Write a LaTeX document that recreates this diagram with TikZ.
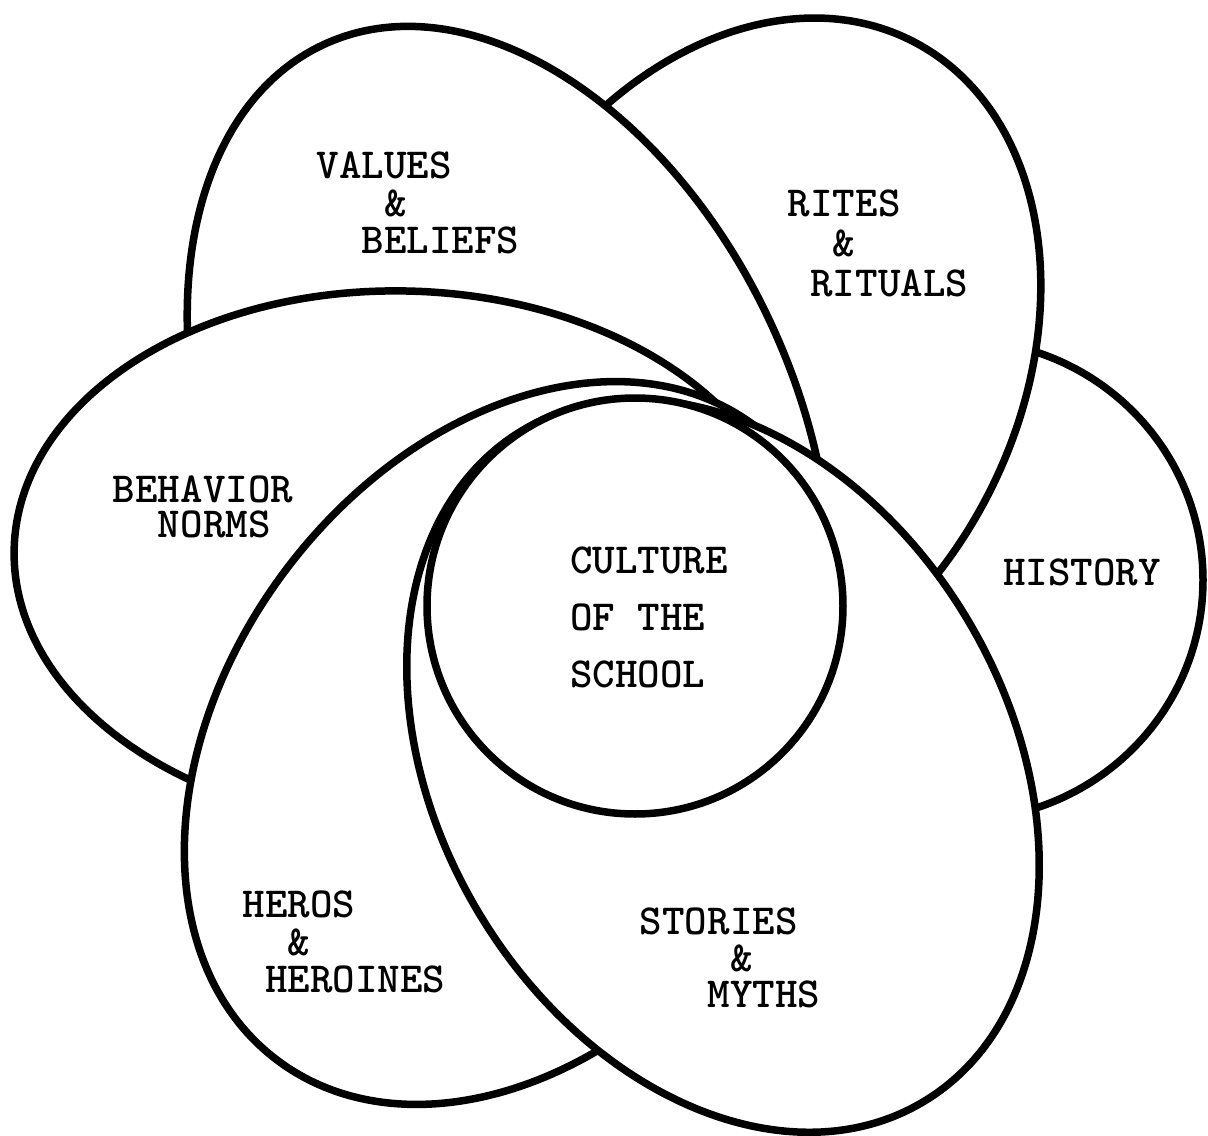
\documentclass[tikz,border=0pt]{standalone}
\usepackage{tikz}

\begin{document}
\begin{tikzpicture}[x=0.1mm, y=0.1mm,
    blob/.style={draw=black, fill=white, line width=0.75mm},
    lbl/.style={font=\fontsize{12.2}{#1}\selectfont\ttfamily\bfseries, align=left, inner sep=0pt},
    lbl/.default=10.6pt]
  \path[use as bounding box, fill=white] (0,0) rectangle (1208,1135);

  % outer ring, drawn back to front
  \draw[blob] (960,555) ellipse [x radius=24.3mm, y radius=24mm];                                 % history
  \draw[blob, rotate around={62.5:(743,765)}] (743,765) ellipse [x radius=37mm, y radius=27.5mm];  % rites
  \draw[blob, rotate around={-65.5:(509,687)}] (509,687) ellipse [x radius=44.4mm, y radius=29mm]; % values
  \draw[blob, rotate around={-1.6:(404,576)}] (404,576) ellipse [x radius=39mm, y radius=26.8mm];  % behavior
  \draw[blob, rotate around={53:(516,392)}] (516,392) ellipse [x radius=39.7mm, y radius=28.8mm];  % heros
  \draw[blob, rotate around={-59.2:(723,369)}] (723,369) ellipse [x radius=39.1mm, y radius=28.5mm]; % stories

  % centre
  \draw[blob] (635,529) circle [radius=20.8mm];

  % labels
  \node[lbl] (values) at (418,932) {VALUES\\\phantom{XXX}\&\\\phantom{XX}BELIEFS};
  \node[lbl=11.4pt] (rites) at (878,892) {RITES\\\phantom{XX}\&\\\phantom{X}RITUALS};
  \node[lbl=10pt] (behavior) at (203,628) {BEHAVIOR\\\phantom{XX}NORMS};
  \node[lbl=16.2pt] (culture) at (649,518) {CULTURE\\OF THE\\SCHOOL};
  \node[lbl] (history) at (1082,563) {HISTORY};
  \node[lbl] (heros) at (344,193) {HEROS\\\phantom{XX}\&\\\phantom{X}HEROINES};
  \node[lbl=10.4pt] (stories) at (730,177) {STORIES\\\phantom{XXXX}\&\\\phantom{XXX}MYTHS};
\end{tikzpicture}
\end{document}
